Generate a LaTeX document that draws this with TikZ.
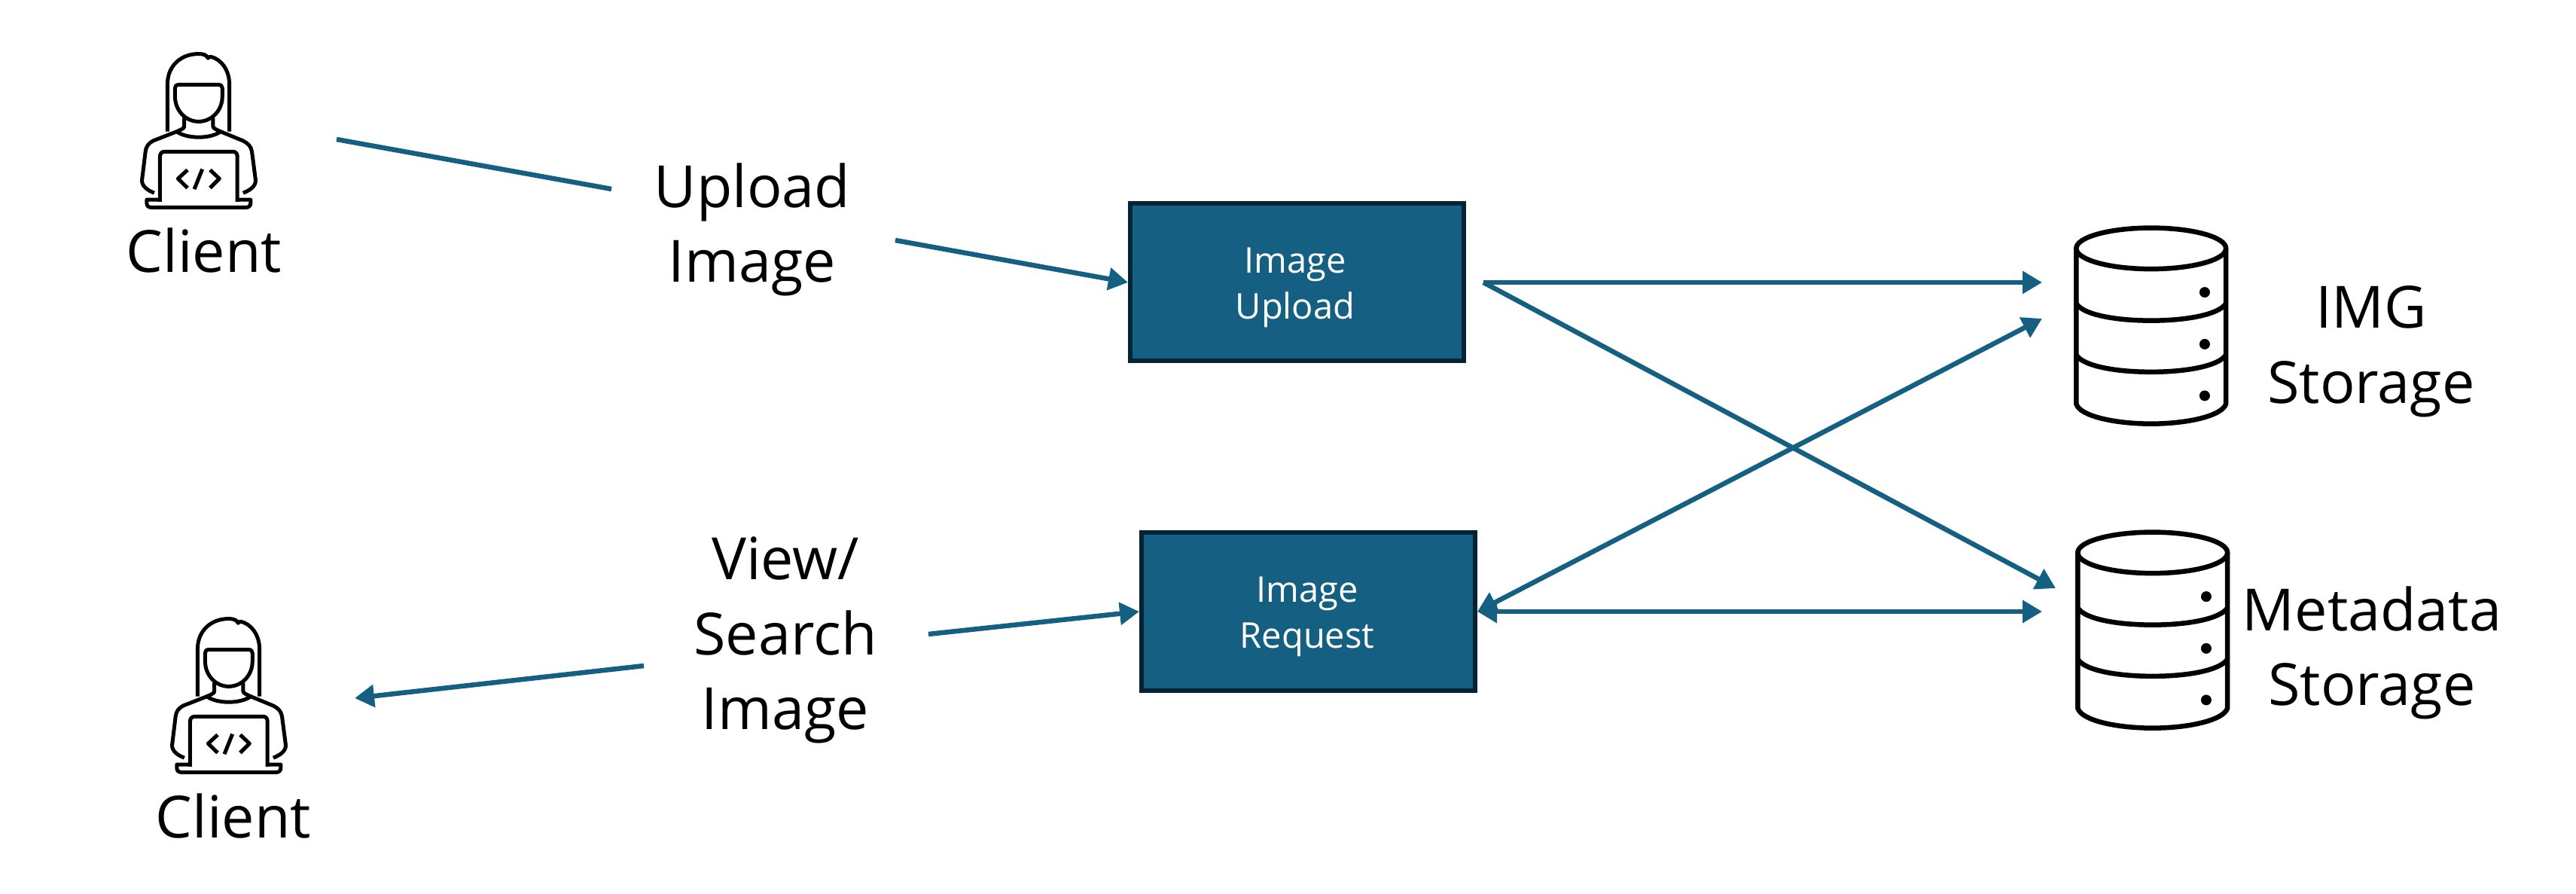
\documentclass[tikz,border=0pt]{standalone}
\usepackage{fontspec}
\setmainfont{Open Sans}
\usetikzlibrary{arrows.meta}
\definecolor{boxblue}{HTML}{156082}
\definecolor{boxedge}{HTML}{042433}
\tikzset{
 procbox/.style={draw=boxedge,fill=boxblue,line width=.06cm,minimum width=4.43cm,minimum height=2.09cm},
 boxtext/.style={text=white,font=\fontsize{13.4}{17.3}\selectfont,align=center},
 biglabel/.style={font=\fontsize{22}{28.4}\selectfont,align=center},
 flow/.style={draw=boxblue,line width=.065cm},
 tip/.style={-{Triangle[length=.26cm,width=.29cm]}},
 bothtip/.style={{Triangle[length=.26cm,width=.29cm]}-{Triangle[length=.26cm,width=.29cm]}},
 clienticon/.pic={
  \begin{scope}[x=.003333cm,y=-.003333cm,line width=.05cm,line join=round]
   \draw (308,405) -- (308,215) .. controls (308,140) and (365,95) .. (430,95) .. controls (450,95) and (462,97) .. (470,112) .. controls (473,108) and (476,106) .. (480,106) .. controls (522,115) and (555,160) .. (555,215) -- (555,405);
   \draw (352,218) -- (512,218) .. controls (522,218) and (527,225) .. (527,232) -- (527,265) .. controls (527,320) and (485,365) .. (432,365) .. controls (380,365) and (338,320) .. (338,265) -- (338,232) .. controls (338,225) and (342,218) .. (352,218) -- cycle;
   \draw (375,350) -- (375,385) .. controls (375,392) and (360,398) .. (345,405) .. controls (385,435) and (480,435) .. (520,405) .. controls (505,398) and (490,392) .. (490,385) -- (490,350);
   \draw (345,405) -- (250,442) .. controls (232,452) and (222,465) .. (220,485) -- (206,600) .. controls (206,625) and (230,640) .. (255,650);
   \draw (520,405) -- (610,442) .. controls (630,452) and (642,465) .. (645,485) -- (660,600) .. controls (660,625) and (635,640) .. (610,650);
   \draw (278,685) -- (278,505) .. controls (278,492) and (285,485) .. (298,485) -- (568,485) .. controls (580,485) and (587,492) .. (587,505) -- (587,685);
   \draw (278,677) -- (225,677) -- (225,690) .. controls (225,702) and (232,708) .. (245,708) -- (620,708) .. controls (632,708) and (640,702) .. (640,690) -- (640,677) -- (587,677);
   \draw (388,558) -- (350,593) -- (388,630);
   \draw (447,555) -- (415,635);
   \draw (478,558) -- (515,593) -- (478,630);
  \end{scope}
 },
 dbicon/.pic={
  \begin{scope}[x=.003333cm,y=-.003333cm,line width=.065cm,line join=round]
   \draw (411,180) ellipse [x radius=299,y radius=82];
   \draw (112,180) -- (112,800) .. controls (125,850) and (270,880) .. (411,880) .. controls (550,880) and (695,850) .. (710,800) -- (710,180);
   \foreach \ypos in {400,605} {
    \draw (112,\ypos) .. controls (140,\ypos+45) and (270,\ypos+68) .. (411,\ypos+68) .. controls (550,\ypos+68) and (680,\ypos+45) .. (710,\ypos);
   }
   \foreach \ypos in {355,562,768} {
    \fill (625,\ypos) circle (21);
   }
  \end{scope}
 },
}

\begin{document}
\begin{tikzpicture}
    \useasboundingbox (0,0) rectangle (34.21,11.86);

    % clients
    \pic at (1.2,11.46) {clienticon};
    \pic at (1.6,3.96) {clienticon};
    \node[biglabel] (clientA) at (2.71,8.53) {Client};
    \node[biglabel] (clientB) at (3.1,1.03) {Client};

    % storage
    \pic at (27.2,9.16) {dbicon};
    \pic at (27.22,5.12) {dbicon};
    \node[biglabel] (imgstore) at (31.49,7.19) {IMG\\Storage};
    \node[biglabel] (metastore) at (31.5,3.19) {Metadata\\Storage};

    % labels and boxes
    \node[biglabel] (upload) at (9.99,8.81) {Upload\\Image};
    \node[biglabel] (view) at (10.43,3.36) {View/\\Search\\Image};
    \node[procbox] (imgupload) at (17.225,8.11) {};
    \node[procbox] (imgrequest) at (17.375,3.74) {};
    \node[boxtext] (imguploadtext) at (17.2,8.045) {Image\\Upload};
    \node[boxtext] (imgrequesttext) at (17.36,3.675) {Image\\Request};

    % free ends
    \coordinate (clientAout) at (4.47,10.01);
    \coordinate (uploadin) at (8.12,9.35);
    \coordinate (uploadout) at (11.89,8.67);
    \coordinate (viewin) at (8.55,3.02);
    \coordinate (clientBin) at (4.71,2.59);
    \coordinate (viewout) at (12.33,3.44);
    \coordinate (upfork) at (19.7,8.11);
    \coordinate (imgin) at (27.12,8.11);
    \coordinate (imgside) at (27.12,7.63);
    \coordinate (metain) at (27.3,4.05);
    \coordinate (metaside) at (27.12,3.74);

    \draw[flow] (clientAout) -- (uploadin);
    \draw[flow,tip] (uploadout) -- (imgupload.west);
    \draw[flow,tip] (viewin) -- (clientBin);
    \draw[flow,tip] (viewout) -- (imgrequest.west);
    \draw[flow,tip] (upfork) -- (imgin);
    \draw[flow,tip] (upfork) -- (metain);
    \draw[flow,bothtip] (imgrequest.east) -- (metaside);
    \draw[flow,bothtip] (imgrequest.east) -- (imgside);
\end{tikzpicture}
\end{document}
